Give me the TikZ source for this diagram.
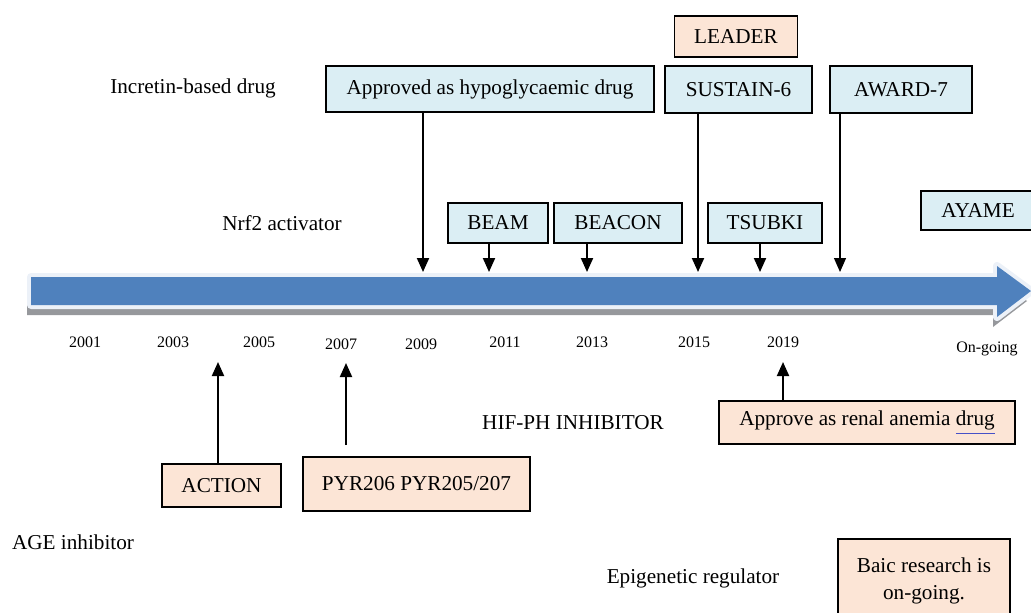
\documentclass[tikz,border=0pt]{standalone}
\usepackage{fontspec}
\setmainfont{Liberation Serif}
\usetikzlibrary{arrows.meta}
\definecolor{barblue}{RGB}{79,129,189}
\definecolor{barglow}{RGB}{236,241,248}
\definecolor{barshade}{RGB}{150,152,156}
\definecolor{boxblue}{RGB}{219,238,244}
\definecolor{boxpeach}{RGB}{252,229,214}
\definecolor{ulblue}{RGB}{70,80,200}
\begin{document}
\begin{tikzpicture}[
    x=0.5pt, y=-0.5pt,
    every node/.style={font=\fontsize{10.6}{13.5}\selectfont},
    blu/.style={draw, line width=0.9pt, fill=boxblue, inner sep=0pt},
    pch/.style={draw, line width=0.9pt, fill=boxpeach, inner sep=0pt},
    lab/.style={inner sep=0pt},
    yr/.style={inner sep=0pt, font=\fontsize{8}{9}\selectfont},
    tip/.style={line width=1pt, -{Triangle[width=6pt,length=7pt]}}
]
\useasboundingbox (0,0) rectangle (1031,612);

% time line
\fill[barshade] (27,287) -- (993,287) -- (993,276) -- (1027,301) -- (993,327) -- (993,315) -- (27,315) -- cycle;
\draw[barglow, line width=4pt, line join=round] (31,277) -- (997,277) -- (997,266) -- (1031,291) -- (997,317) -- (997,305) -- (31,305) -- cycle;
\fill[barblue] (31,277) -- (997,277) -- (997,266) -- (1031,291) -- (997,317) -- (997,305) -- (31,305) -- cycle;

% years
\foreach \yx/\yy/\yt in {85/342/2001, 173/342/2003, 259/342/2005, 341/344/2007,
    421/344/2009, 505/342/2011, 592/342/2013, 694/342/2015, 783/342/2019}
  \node[yr] (y\yt) at (\yx,\yy) {\yt};
\node[yr] (yon) at (987,349) {On-going};

% drug classes
\node[lab] (incr) at (193,88) {Incretin-based drug};
\node[lab] (nrf) at (282,223) {Nrf2 activator};
\node[lab] (age) at (73,542) {AGE inhibitor};
\node[lab] (hif) at (573,423) {HIF-PH INHIBITOR};
\node[lab] (epi) at (693,578) {Epigenetic regulator};

% trials above the line
\node[pch, minimum width=61.5pt, minimum height=20.5pt] (leader) at (736,36.5) {LEADER};
\node[blu, minimum width=164pt, minimum height=23pt] (appr) at (490,89) {Approved as hypoglycaemic drug};
\node[blu, minimum width=73.5pt, minimum height=23.5pt] (sustain) at (738.5,89.5) {SUSTAIN-6};
\node[blu, minimum width=71pt, minimum height=23.5pt] (award) at (901,89.5) {AWARD-7};
\node[blu, minimum width=50pt, minimum height=20pt] (beam) at (498,223) {BEAM};
\node[blu, minimum width=64pt, minimum height=20pt] (beacon) at (618,223) {BEACON};
\node[blu, minimum width=57pt, minimum height=20pt] (tsubki) at (765,223) {TSUBKI};
\node[blu, minimum width=57pt, minimum height=19.5pt] (ayame) at (978,210.5) {AYAME};

% trials below the line
\node[pch, minimum width=59.5pt, minimum height=21.5pt] (action) at (221.5,485.5) {ACTION};
\node[pch, minimum width=113.5pt, minimum height=27pt] (pyr) at (416.5,484) {PYR206 PYR205/207};
\node[pch, minimum width=148pt, minimum height=21.5pt] (renal) at (867,422.5)
  {Approve as renal anemia {\color{ulblue}\underline{\color{black}drug}}};
\node[pch, minimum width=86pt, minimum height=42pt, align=center] (baic) at (924,581)
  {Baic research is\\on-going.};

% points on the line
\coordinate (c09) at (423,272);
\coordinate (c11) at (489,272);
\coordinate (c13) at (587,272);
\coordinate (c15) at (698,272);
\coordinate (c17) at (760,272);
\coordinate (c19) at (840,272);
\coordinate (u04) at (218,362);
\coordinate (u07) at (346,363);
\coordinate (u19) at (783,362);

\draw[tip] (appr.south -| c09) -- (c09);
\draw[tip] (beam.south -| c11) -- (c11);
\draw[tip] (beacon.south -| c13) -- (c13);
\draw[tip] (sustain.south -| c15) -- (c15);
\draw[tip] (tsubki.south -| c17) -- (c17);
\draw[tip, line width=0.6pt] (award.south -| c19) -- (c19);

\draw[tip] (action.north -| u04) -- (u04);
\draw[tip, shorten <=5.5pt] (pyr.north -| u07) -- (u07);
\draw[tip] (renal.north -| u19) -- (u19);
\end{tikzpicture}
\end{document}
